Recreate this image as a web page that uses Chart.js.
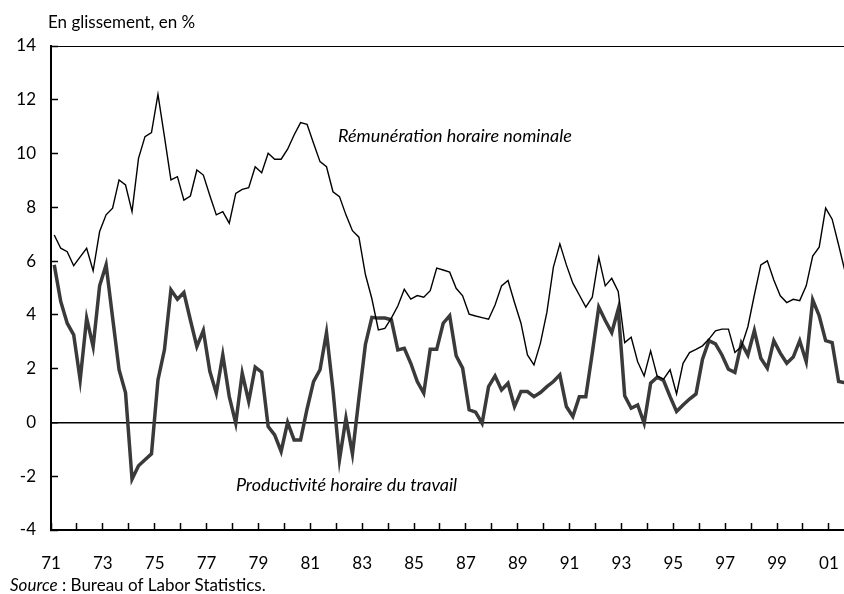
<!DOCTYPE html>
<html lang="fr">
<head>
<meta charset="utf-8">
<script src="https://cdn.jsdelivr.net/npm/chart.js@4.4.1/dist/chart.umd.min.js"></script>
<style>
  body { margin: 0; background: #fff; }
  #wrap { width: 844px; height: 594px; }
</style>
</head>
<body>
<div id="wrap"><canvas id="chart"></canvas></div>
<script>
// glissement annuel en %, données trimestrielles 1971T1 -> 2001T3
const firstYear = 1971;

const remuneration = [
  6.97, 6.48, 6.35, 5.83, 6.16, 6.48, 5.64, 7.10, 7.72, 7.97,
  9.02, 8.83, 7.84, 9.82, 10.63, 10.78, 12.20, 10.63, 9.02, 9.14,
  8.27, 8.42, 9.39, 9.20, 8.44, 7.72, 7.84, 7.41, 8.52, 8.67,
  8.73, 9.51, 9.29, 10.01, 9.79, 9.79, 10.16, 10.69, 11.15, 11.09,
  10.38, 9.70, 9.51, 8.58, 8.40, 7.72, 7.13, 6.89, 5.50, 4.60,
  3.44, 3.50, 3.88, 4.33, 4.95, 4.59, 4.72, 4.66, 4.90, 5.74,
  5.67, 5.59, 4.99, 4.71, 4.03, 3.96, 3.90, 3.84, 4.37, 5.08,
  5.28, 4.46, 3.69, 2.51, 2.14, 2.95, 4.10, 5.78, 6.64, 5.86,
  5.18, 4.74, 4.29, 4.66, 6.14, 5.08, 5.36, 4.87, 2.97, 3.17,
  2.26, 1.73, 2.66, 1.73, 1.61, 1.96, 1.06, 2.20, 2.60, 2.72,
  2.85, 3.10, 3.41, 3.47, 3.47, 2.60, 2.82, 3.56, 4.74, 5.86,
  6.01, 5.30, 4.71, 4.46, 4.58, 4.53, 5.08, 6.19, 6.52, 7.97,
  7.56, 6.60, 5.60
];

const productivite = [
  5.86, 4.50, 3.69, 3.26, 1.58, 3.88, 2.82, 5.08, 5.86, 3.90,
  1.96, 1.10, -2.11, -1.61, -1.39, -1.17, 1.58, 2.70, 4.93, 4.58,
  4.83, 3.81, 2.82, 3.42, 1.90, 1.09, 2.51, 0.96, -0.03, 1.83,
  0.78, 2.06, 1.87, -0.15, -0.46, -1.08, 0.00, -0.65, -0.65, 0.50,
  1.52, 1.96, 3.34, 1.20, -1.39, 0.16, -1.17, 0.90, 2.90, 3.91,
  3.88, 3.88, 3.82, 2.70, 2.76, 2.20, 1.52, 1.09, 2.72, 2.72,
  3.69, 3.97, 2.48, 2.02, 0.47, 0.38, -0.03, 1.33, 1.73, 1.21,
  1.46, 0.59, 1.15, 1.15, 0.96, 1.11, 1.33, 1.52, 1.77, 0.59,
  0.22, 0.96, 0.96, 2.58, 4.29, 3.79, 3.34, 4.21, 0.99, 0.53,
  0.65, -0.03, 1.46, 1.68, 1.56, 0.96, 0.41, 0.65, 0.87, 1.06,
  2.35, 3.04, 2.92, 2.51, 1.98, 1.86, 2.95, 2.51, 3.42, 2.39,
  2.02, 3.04, 2.58, 2.20, 2.43, 3.04, 2.26, 4.56, 3.97, 3.04,
  2.97, 1.52, 1.48
];

const yearTicks = [];
for (let y = 1971; y <= 2001; y++) yearTicks.push(y);
const xLabels = ['71', '73', '75', '77', '79', '81', '83', '85', '87', '89', '91', '93', '95', '97', '99', '01'];
const yTicks = [-4, -2, 0, 2, 4, 6, 8, 10, 12, 14];

// milieu de chaque trimestre
const quarters = remuneration.map((_, i) => firstYear + (i + 0.5) / 4);

const FONT = 'Lato, "DejaVu Sans", sans-serif';

/*---------------- textes : titre, étiquettes des courbes, source ----------------*/
const texts = {
  id: 'texts',
  afterDraw(chart) {
    const ctx = chart.ctx;
    const xs = chart.scales.x, ys = chart.scales.y;
    ctx.save();
    ctx.fillStyle = '#000';
    ctx.textBaseline = 'alphabetic';
    ctx.textAlign = 'left';

    ctx.font = '17px ' + FONT;
    ctx.fillText('En glissement, en %', 48, 28);

    ctx.font = 'italic 18px ' + FONT;
    ctx.fillText('Rémunération horaire nominale', xs.getPixelForValue(1982.07), ys.getPixelForValue(10.43));
    ctx.fillText('Productivité horaire du travail', xs.getPixelForValue(1978.13), ys.getPixelForValue(-2.55));

    ctx.font = 'italic 17px ' + FONT;
    ctx.fillText('Source', 10, 591);
    const w = ctx.measureText('Source').width;
    ctx.font = '17px ' + FONT;
    ctx.fillText(' : Bureau of Labor Statistics.', 10 + w, 591);
    ctx.restore();
  }
};

new Chart(document.getElementById('chart'), {
  type: 'line',
  data: {
    datasets: [
      {
        label: 'Rémunération horaire nominale',
        data: quarters.map((x, i) => ({ x: x, y: remuneration[i] })),
        borderColor: '#000',
        borderWidth: 1.4,
        pointRadius: 0,
        tension: 0
      },
      {
        label: 'Productivité horaire du travail',
        data: quarters.map((x, i) => ({ x: x, y: productivite[i] })),
        borderColor: '#3a3a3a',
        borderWidth: 3.5,
        pointRadius: 0,
        tension: 0
      }
    ]
  },
  options: {
    responsive: true,
    maintainAspectRatio: false,
    animation: false,
    layout: { padding: { top: 46, right: 0, bottom: 0, left: 0 } },
    plugins: { legend: { display: false }, tooltip: { enabled: false } },
    scales: {
      x: {
        type: 'linear',
        min: 1971,
        max: 1971 + 793 / 25.93,
        afterBuildTicks: s => { s.ticks = yearTicks.map(v => ({ value: v })); },
        afterFit: s => { s.height = 64; s.paddingLeft = 0; s.paddingRight = 0; },
        border: { color: '#000', width: 2 },
        grid: { drawOnChartArea: false, tickLength: -7, tickColor: '#000', tickWidth: 1.5 },
        ticks: {
          autoSkip: false,
          maxRotation: 0,
          padding: 30,
          color: '#000',
          font: { family: FONT, size: 17 },
          callback: v => ((v - 1971) % 2 === 0 ? xLabels[(v - 1971) / 2] : '')
        }
      },
      y: {
        min: -4,
        max: 14,
        afterBuildTicks: s => { s.ticks = yTicks.map(v => ({ value: v })); },
        afterFit: s => { s.width = 51; },
        border: { color: '#000', width: 2 },
        grid: {
          tickLength: -7,
          tickColor: '#000',
          tickWidth: 1.5,
          color: c => (c.tick && (c.tick.value === 0 || c.tick.value === 14) ? '#000' : 'rgba(0,0,0,0)'),
          lineWidth: c => (c.tick && c.tick.value === 0 ? 1.5 : 1)
        },
        ticks: {
          padding: 22,
          color: '#000',
          font: { family: FONT, size: 17 }
        }
      }
    }
  },
  plugins: [texts]
});
</script>
</body>
</html>
